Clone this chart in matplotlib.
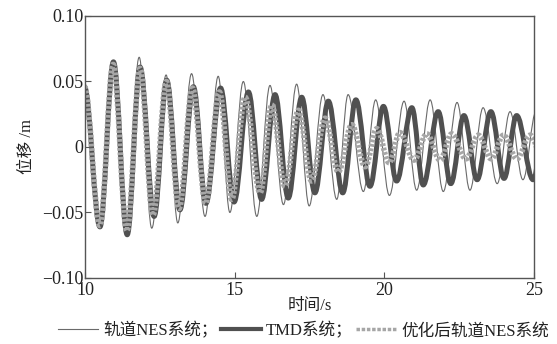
import matplotlib
matplotlib.use("Agg")
import matplotlib.pyplot as plt
from matplotlib.path import Path
from matplotlib.patches import PathPatch
from matplotlib.lines import Line2D

plt.rcParams['font.family'] = ['Liberation Serif', 'Noto Sans CJK SC', 'DejaVu Sans']

# extrema (time s, displacement m), alternating peak/trough
nes_t = [9.98, 10.47, 10.90, 11.35, 11.81, 12.23, 12.71, 13.10, 13.56, 14.01, 14.45, 14.84,
         15.29, 15.74, 16.18, 16.63, 17.07, 17.49, 17.95, 18.41, 18.79, 19.30, 19.71, 20.17,
         20.66, 21.08, 21.53, 21.97, 22.43, 22.86, 23.30, 23.77, 24.20, 24.63, 25.07]
nes_v = [0.046, -0.060, 0.064, -0.066, 0.0685, -0.062, 0.055, -0.058, 0.056, -0.053, 0.054, -0.050,
         0.050, -0.053, 0.047, -0.044, 0.048, -0.045, 0.040, -0.040, 0.040, -0.034, 0.036, -0.037,
         0.035, -0.033, 0.036, -0.034, 0.034, -0.033, 0.030, -0.028, 0.027, -0.025, 0.027]

tmd_t = [9.98, 10.50, 10.95, 11.41, 11.84, 12.31, 12.73, 13.17, 13.62, 14.04, 14.53, 14.98,
         15.46, 15.90, 16.35, 16.79, 17.24, 17.68, 18.13, 18.61, 19.05, 19.52, 19.97, 20.41,
         20.92, 21.30, 21.80, 22.22, 22.66, 23.10, 23.56, 24.00, 24.42, 24.97, 25.40]
tmd_v = [0.046, -0.061, 0.065, -0.067, 0.061, -0.053, 0.051, -0.048, 0.046, -0.043, 0.045, -0.042,
         0.042, -0.040, 0.040, -0.039, 0.038, -0.035, 0.035, -0.035, 0.036, -0.030, 0.031, -0.026,
         0.030, -0.029, 0.027, -0.028, 0.024, -0.025, 0.027, -0.024, 0.024, -0.025, 0.024]

opt_t = [9.98, 10.50, 10.94, 11.40, 11.84, 12.27, 12.72, 13.14, 13.59, 14.03, 14.49, 14.90,
         15.35, 15.85, 16.24, 16.68, 17.13, 17.57, 18.02, 18.46, 18.91, 19.36, 19.75, 20.16,
         20.52, 20.99, 21.42, 21.86, 22.25, 22.73, 23.14, 23.57, 23.98, 24.43, 24.87, 25.30]
opt_v = [0.046, -0.060, 0.063, -0.064, 0.060, -0.052, 0.050, -0.047, 0.045, -0.043, 0.042, -0.040,
         0.038, -0.035, 0.032, -0.030, 0.028, -0.026, 0.022, -0.019, 0.017, -0.015, 0.014, -0.012,
         0.011, -0.010, 0.010, -0.010, 0.010, -0.009, 0.009, -0.009, 0.009, -0.009, 0.009, -0.009]

labels = ["轨道NES系统；", "TMD系统；", "优化后轨道NES系统"]
xticks = [10, 15, 20, 25]
yticks = [-0.10, -0.05, 0, 0.05, 0.10]
ytick_labels = ["−0.10", "−0.05", "0", "0.05", "0.10"]

K = 0.364  # bezier handle for a half-cosine between extrema


def wave_path(ts, vs):
    verts = [(ts[0], vs[0])]
    codes = [Path.MOVETO]
    for t0, y0, t1, y1 in zip(ts[:-1], vs[:-1], ts[1:], vs[1:]):
        h = K * (t1 - t0)
        verts += [(t0 + h, y0), (t1 - h, y1), (t1, y1)]
        codes += [Path.CURVE4] * 3
    return Path(verts, codes)


fig = plt.figure(figsize=(5.57, 3.44), dpi=100)
ax = fig.add_axes([0.1526, 0.1919, 0.8061, 0.7616])

styles = [
    dict(edgecolor="#6a6a6a", lw=0.8, linestyle="-"),
    dict(edgecolor="#505050", lw=3.6, linestyle="-"),
    dict(edgecolor="#a6a6a6", lw=4.0, linestyle=(0, (0.5, 0.3))),
]
for (ts, vs), st in zip([(nes_t, nes_v), (tmd_t, tmd_v), (opt_t, opt_v)], styles):
    patch = PathPatch(wave_path(ts, vs), fill=False, transform=ax.transData,
                      capstyle="butt", joinstyle="round", **st)
    ax.add_patch(patch)

ax.set_xlim(10, 25)
ax.set_ylim(-0.10, 0.10)
ax.set_xticks(xticks)
ax.set_yticks(yticks)
ax.set_yticklabels(ytick_labels)
ax.tick_params(direction="in", length=4, width=0.8, colors="#555555",
               labelcolor="#222222", labelsize=13, top=False, right=False)
ax.tick_params(axis="x", pad=3)
ax.tick_params(axis="y", pad=1)
for sp in ax.spines.values():
    sp.set_color("#555555")
    sp.set_linewidth(1.0)

ax.set_xlabel("时间/s", fontsize=12, color="#222222", labelpad=-1)
ax.set_ylabel("位移 /m", fontsize=12, color="#222222", labelpad=5)

handles = [
    Line2D([], [], color="#6a6a6a", lw=0.8),
    Line2D([], [], color="#505050", lw=3.0),
    Line2D([], [], color="#a6a6a6", lw=2.5, linestyle=(0, (1, 0.5))),
]
fig.legend(handles, labels, loc="lower center", bbox_to_anchor=(0.545, -0.03), ncol=3,
           frameon=False, fontsize=12, handlelength=2.4, handletextpad=0.3,
           columnspacing=0.2, labelcolor="#222222")

fig.savefig("out.png", dpi=100)
